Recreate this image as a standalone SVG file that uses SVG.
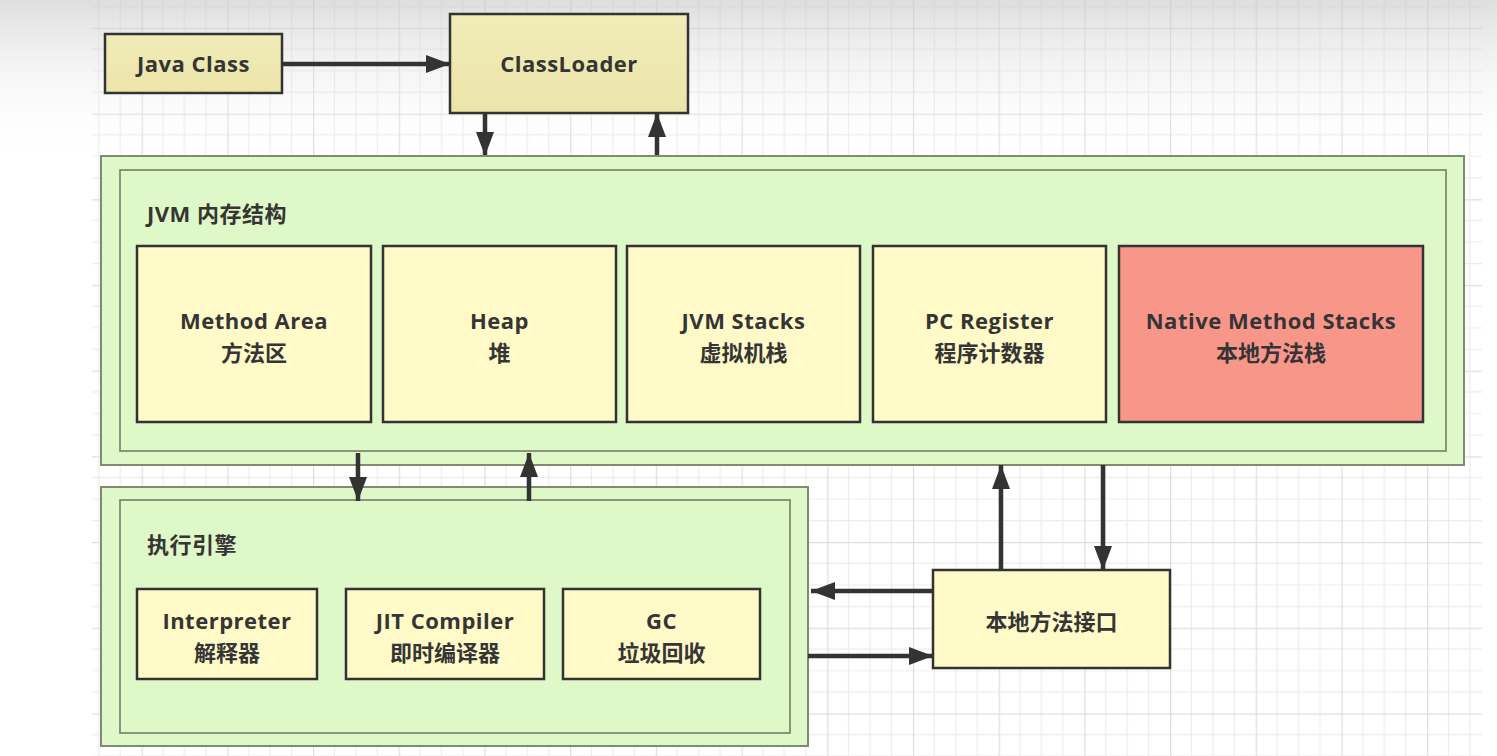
<svg xmlns="http://www.w3.org/2000/svg" width="1497" height="756" viewBox="0 0 1497 756">
<style>
.t{font-family:"Open Sans","Noto Sans CJK SC",sans-serif;font-weight:bold;font-size:22px;letter-spacing:0.5px;fill:#353535;text-anchor:middle}
.cn{font-family:"Noto Sans CJK SC",sans-serif;font-weight:bold;font-size:22px;fill:#353535;text-anchor:middle}
.title{font-family:"Open Sans","Noto Sans CJK SC",sans-serif;font-weight:bold;font-size:22px;letter-spacing:0.5px;fill:#353535}
.top{fill:url(#gTop);stroke:#333;stroke-width:2.5}
.mem{fill:#fffac8;stroke:#333;stroke-width:2.5}
.nat{fill:#f9968a;stroke:#333;stroke-width:2.5}
.outer{fill:#dff8c8;stroke:#7d8c72;stroke-width:2}
.inner{fill:#dff8c8;stroke:#7d8c72;stroke-width:1.8}
.conn{stroke:#333;stroke-width:4.5;fill:none;marker-end:url(#ah)}
</style>
<defs>
<pattern id="grid" patternUnits="userSpaceOnUse" x="141.6" y="27.8" width="85.7" height="85.7">
<path d="M21.4 0V85.7M42.85 0V85.7M64.3 0V85.7M0 21.4H85.7M0 42.85H85.7M0 64.3H85.7" stroke="#ececec" stroke-width="1.2" fill="none"/>
<path d="M0.5 0V85.7M0 0.5H85.7" stroke="#dedede" stroke-width="1.5" fill="none"/>
</pattern>
<linearGradient id="shade" x1="0" y1="0" x2="0" y2="1">
<stop offset="0" stop-color="#c8c8c8" stop-opacity="0.6"/>
<stop offset="1" stop-color="#ffffff" stop-opacity="0"/>
</linearGradient>
<linearGradient id="gTop" x1="0" y1="0" x2="0" y2="1">
<stop offset="0" stop-color="#f1ecb8"/>
<stop offset="1" stop-color="#ebe5aa"/>
</linearGradient>
<marker id="ah" markerUnits="userSpaceOnUse" markerWidth="26" markerHeight="20" refX="24" refY="9" orient="auto">
<path d="M0 0L24 9L0 18Z" fill="#333"/>
</marker>
</defs>
<rect width="1497" height="756" fill="#ffffff"/>
<rect x="92" y="0" width="1390" height="756" fill="url(#grid)"/>
<rect x="0" y="0" width="1497" height="160" fill="url(#shade)"/>

<g id="connectors">
<line class="conn" x1="282" y1="64" x2="450" y2="64"/>
<line class="conn" x1="485" y1="113" x2="485" y2="156"/>
<line class="conn" x1="657" y1="156" x2="657" y2="113"/>
</g>

<g id="java-class">
<rect class="top" x="105" y="34" width="177" height="59"/>
<text class="t" x="193.5" y="72">Java Class</text>
</g>
<g id="classloader">
<rect class="top" x="450" y="14" width="238" height="99"/>
<text class="t" x="569" y="72">ClassLoader</text>
</g>

<g id="jvm-memory">
<rect class="outer" x="101" y="156" width="1363" height="309"/>
<rect class="inner" x="120" y="170" width="1326" height="281"/>
<text class="title" x="147" y="222">JVM 内存结构</text>
</g>
<g id="method-area">
<rect class="mem" x="137" y="246" width="234" height="176"/>
<text class="t" x="254" y="329">Method Area</text>
<text class="cn" x="254" y="361">方法区</text>
</g>
<g id="heap">
<rect class="mem" x="383" y="246" width="233" height="176"/>
<text class="t" x="499.5" y="329">Heap</text>
<text class="cn" x="499.5" y="361">堆</text>
</g>
<g id="jvm-stacks">
<rect class="mem" x="627" y="246" width="233" height="176"/>
<text class="t" x="743.5" y="329">JVM Stacks</text>
<text class="cn" x="743.5" y="361">虚拟机栈</text>
</g>
<g id="pc-register">
<rect class="mem" x="873" y="246" width="233" height="176"/>
<text class="t" x="989.5" y="329">PC Register</text>
<text class="cn" x="989.5" y="361">程序计数器</text>
</g>
<g id="native-method-stacks">
<rect class="nat" x="1119" y="246" width="304" height="176"/>
<text class="t" x="1271" y="329">Native Method Stacks</text>
<text class="cn" x="1271" y="361">本地方法栈</text>
</g>

<g id="execution-engine">
<rect class="outer" x="101" y="487" width="707" height="259"/>
<rect class="inner" x="120" y="500" width="670" height="233"/>
<text class="title" x="147" y="553">执行引擎</text>
</g>
<g id="interpreter">
<rect class="mem" x="137" y="589" width="180" height="90"/>
<text class="t" x="227" y="629">Interpreter</text>
<text class="cn" x="227" y="661">解释器</text>
</g>
<g id="jit-compiler">
<rect class="mem" x="346" y="589" width="198" height="90"/>
<text class="t" x="445" y="629">JIT Compiler</text>
<text class="cn" x="445" y="661">即时编译器</text>
</g>
<g id="gc">
<rect class="mem" x="563" y="589" width="197" height="90"/>
<text class="t" x="661.5" y="629">GC</text>
<text class="cn" x="661.5" y="661">垃圾回收</text>
</g>

<g id="native-interface">
<rect class="mem" x="933" y="570" width="237" height="98"/>
<text class="cn" x="1051.5" y="630">本地方法接口</text>
</g>

<g id="connectors-lower">
<line class="conn" x1="358" y1="453" x2="358" y2="501"/>
<line class="conn" x1="529" y1="501" x2="529" y2="453"/>
<line class="conn" x1="1001" y1="570" x2="1001" y2="465"/>
<line class="conn" x1="1103" y1="465" x2="1103" y2="570"/>
<line class="conn" x1="933" y1="591" x2="811" y2="591"/>
<line class="conn" x1="808" y1="656" x2="933" y2="656"/>
</g>
</svg>
